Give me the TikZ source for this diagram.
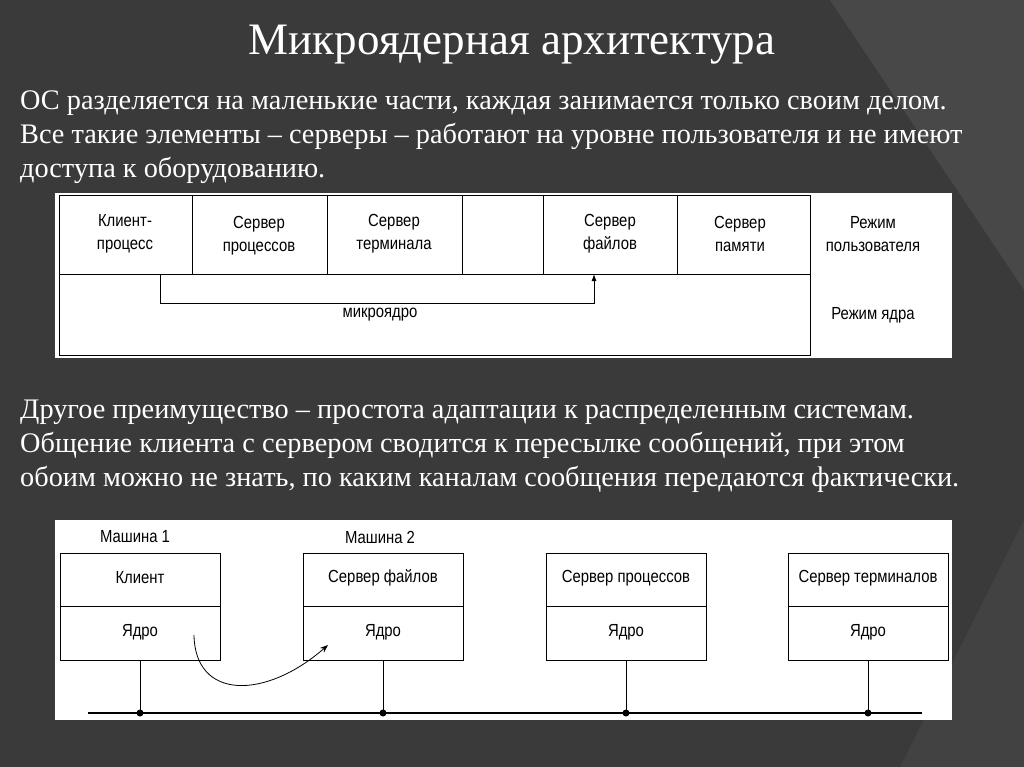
\documentclass[tikz,border=0pt]{standalone}
\usepackage{fontspec}
\usetikzlibrary{arrows.meta}
\setmainfont{Liberation Serif}
\newfontfamily\diag{Liberation Sans}[FakeStretch=0.85]
\definecolor{bgA}{RGB}{58,58,58}
\definecolor{bgB}{RGB}{72,72,72}
\definecolor{bgC}{RGB}{66,66,66}
\begin{document}
\begin{tikzpicture}[x=1pt,y=-1pt,
  lbl/.style={font=\diag\fontsize{17.5}{23}\selectfont,align=center,inner sep=0},
  body/.style={font=\fontsize{28.3}{34}\selectfont,text=white,anchor=north west,align=left,inner sep=0},
  cell/.style={draw=black,line width=0.9pt}]
\fill[bgA] (0,0) rectangle (1024,767);
\fill[bgB] (830,0) -- (1024,0) -- (1024,290) -- cycle;
\fill[bgC] (900,767) -- (1024,520) -- (1024,767) -- cycle;
\useasboundingbox (0,0) rectangle (1024,767);
\node[font=\fontsize{45}{48}\selectfont,text=white] (title) at (512,45) {Микроядерная архитектура};
\node[body] (p1) at (20,91) {ОС разделяется на маленькие части, каждая занимается только своим делом.\\Все такие элементы -- серверы -- работают на уровне пользователя и не имеют\\доступа к оборудованию.};
\node[body] (p2) at (20,400) {Другое преимущество -- простота адаптации к распределенным системам.\\Общение клиента с сервером сводится к пересылке сообщений, при этом\\обоим можно не знать, по каким каналам сообщения передаются фактически.};
% top diagram
\fill[white] (55,193) rectangle (952,358);
\draw[cell] (59,195) rectangle (810,355);
\draw[cell] (59,274) -- (810,274);
\foreach \x in {192,327,462,543,677} \draw[cell] (\x,195) -- (\x,274);
\node[lbl] (c1) at (125,234) {Клиент-\\процесс};
\node[lbl] (c2) at (259,236) {Сервер\\процессов};
\node[lbl] (c3) at (394,234) {Сервер\\терминала};
\node[lbl] (c5) at (610,234) {Сервер\\файлов};
\node[lbl] (c6) at (740,234) {Сервер\\памяти};
\node[lbl] (um) at (873,234) {Режим\\пользователя};
\node[lbl] (km) at (873,315) {Режим ядра};
\node[lbl] (mk) at (380,315) {микроядро};
\coordinate (a1) at (160,274);
\coordinate (a2) at (594,274);
\draw[line width=0.9pt,-{Latex[length=7pt,width=5pt]}] (a1) -- (160,303) -- (594,303) -- (a2);
% bottom diagram
\fill[white] (55,520) rectangle (952,720);
\node[lbl] (m1) at (135,537) {Машина 1};
\node[lbl] (m2) at (380,537) {Машина 2};
\foreach \x/\t/\n in {60/Клиент/b1,303/Сервер файлов/b2,546/Сервер процессов/b3,788/Сервер терминалов/b4}{
  \draw[cell] (\x,553) rectangle (\x+160,660);
  \draw[cell] (\x,606) -- (\x+160,606);
  \node[lbl] (\n t) at (\x+80,578) {\t};
  \node[lbl] (\n k) at (\x+80,632) {Ядро};
  \coordinate (\n b) at (\x+80,660);
  \coordinate (\n d) at (\x+80,713);
  \draw[line width=0.9pt] (\n b) -- (\n d);
  \fill (\n d) circle (3.5pt);
}
\coordinate (bl) at (88,713); \coordinate (br) at (922,713);
\draw[line width=1.4pt] (bl) -- (br);
\coordinate (s) at (194,635); \coordinate (e) at (328,645);
\draw[line width=0.8pt,-{Stealth[length=8pt]}] (s) .. controls (195,700) and (265,700) .. (e);
\end{tikzpicture}
\end{document}
